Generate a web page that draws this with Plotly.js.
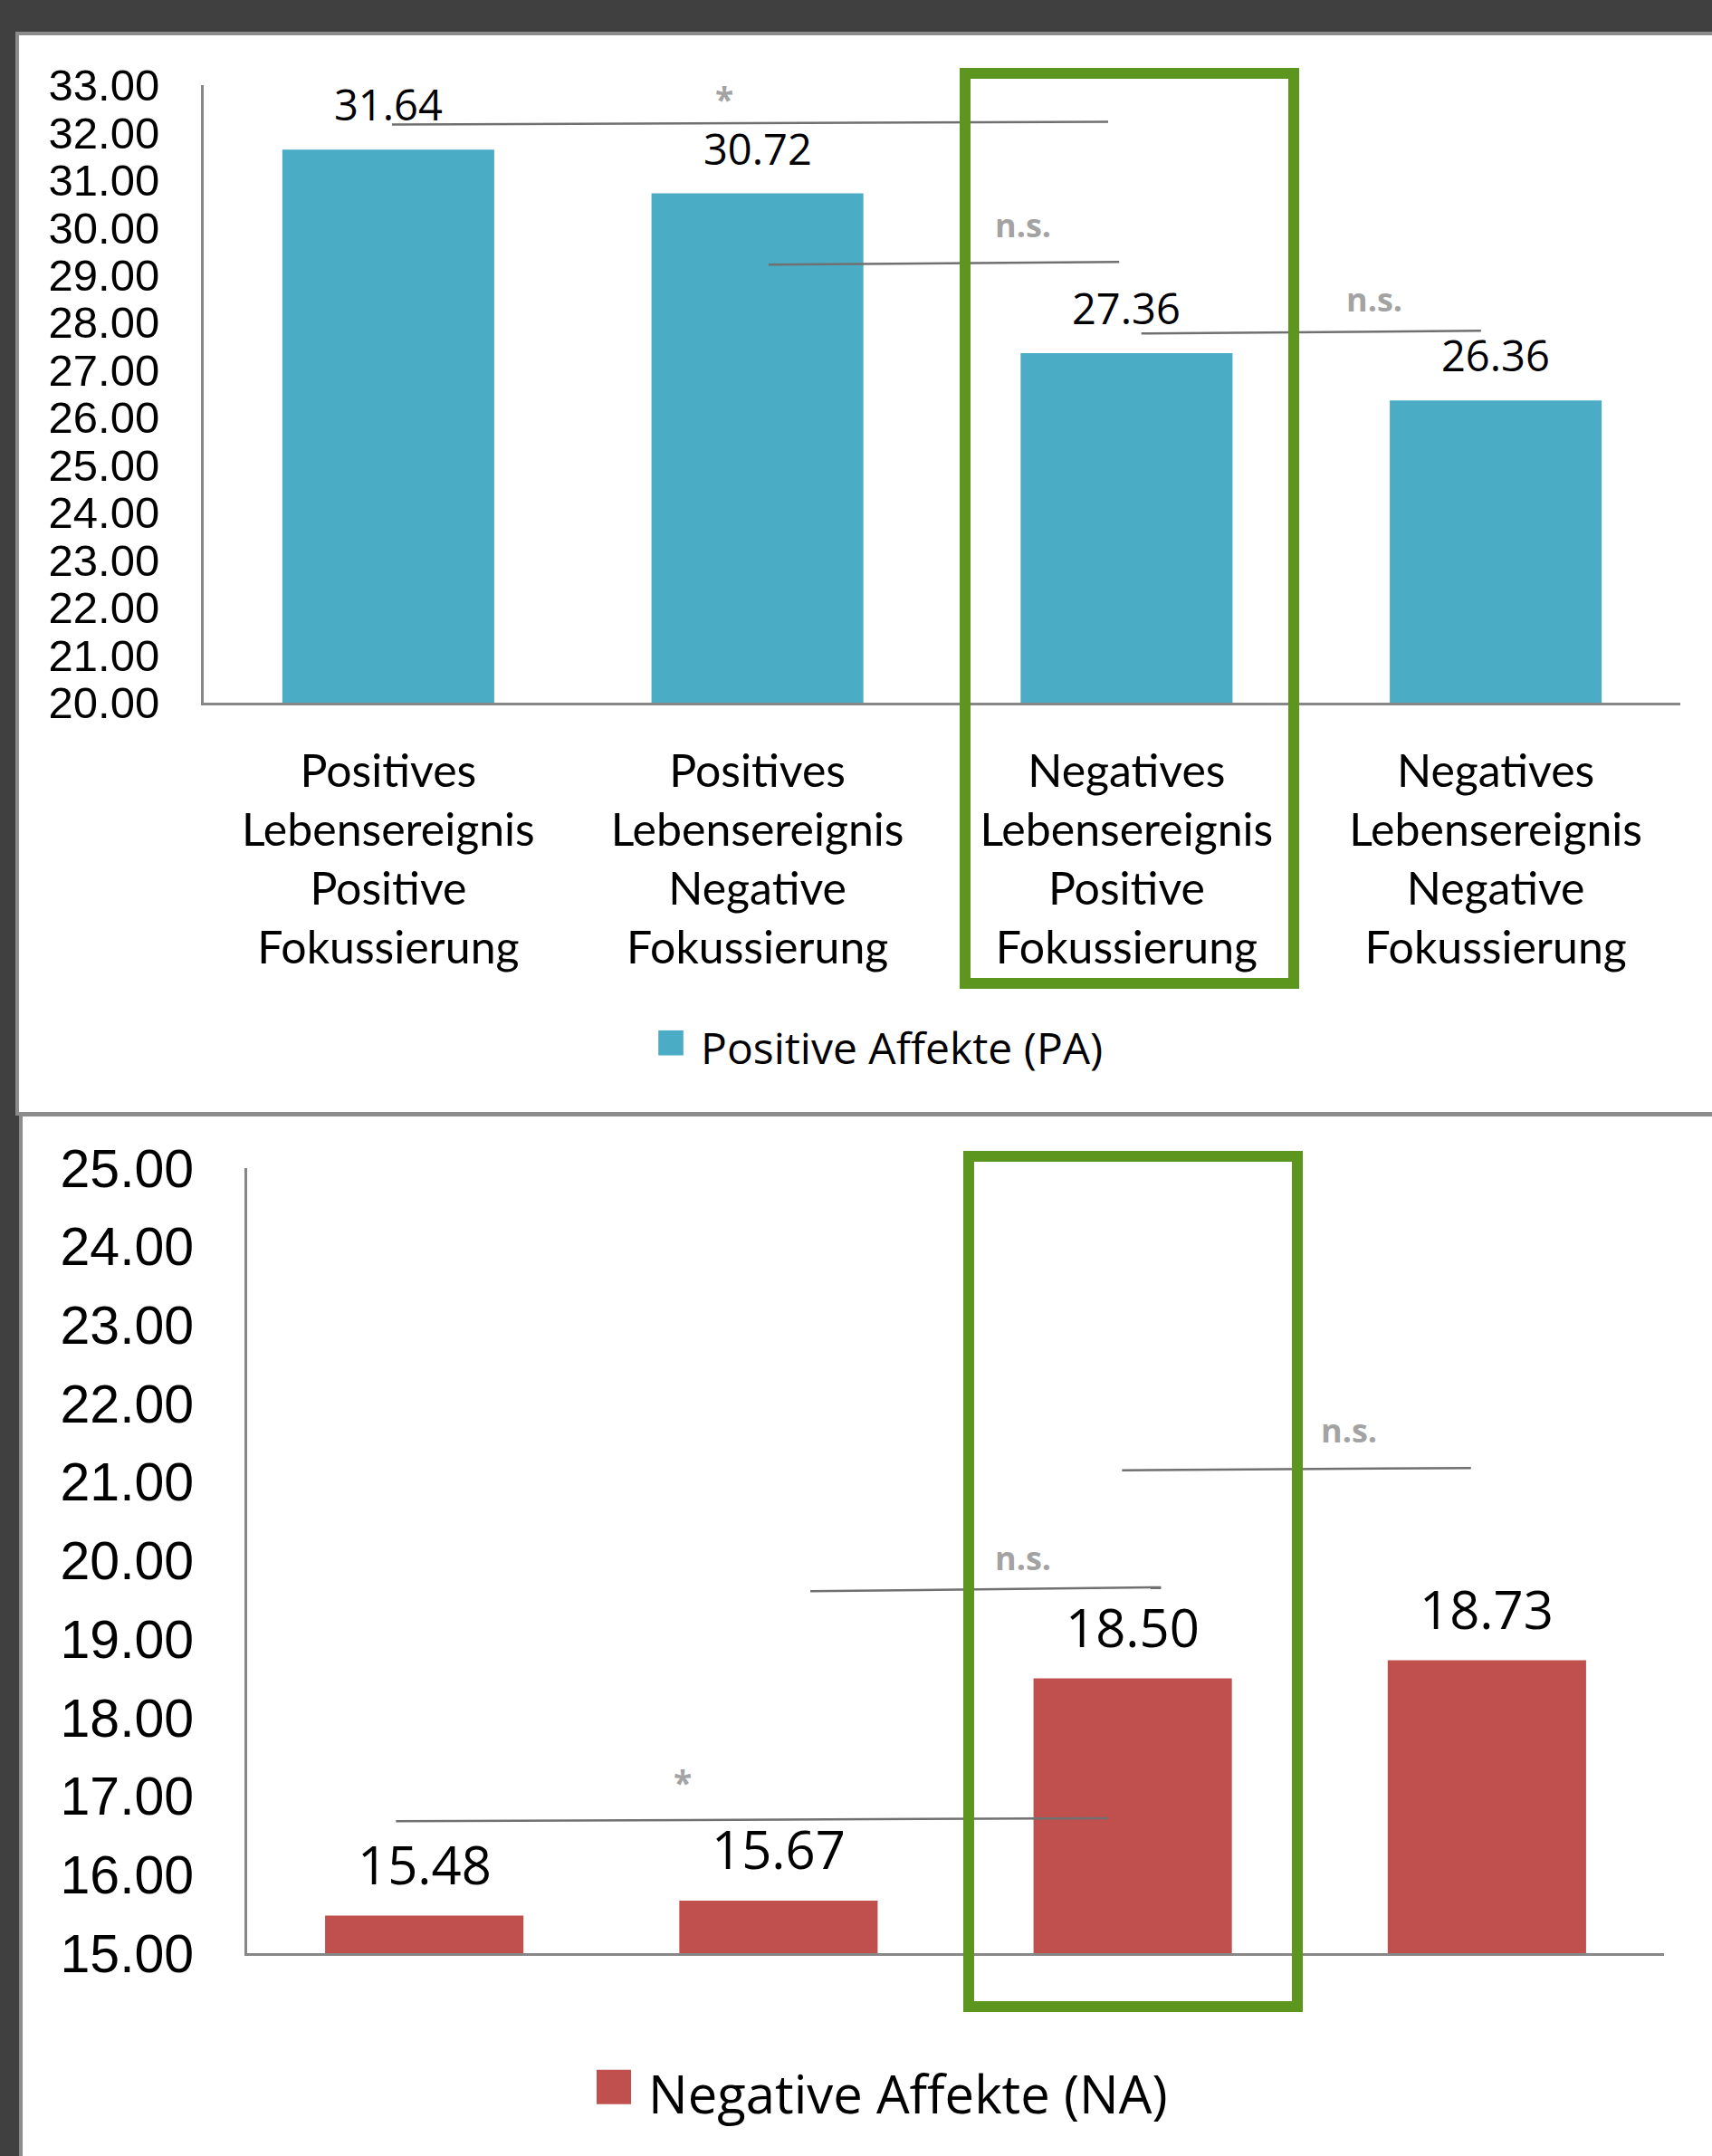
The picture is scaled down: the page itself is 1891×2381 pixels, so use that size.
<!DOCTYPE html>
<html>
<head>
<meta charset="utf-8">
<script src="https://cdn.plot.ly/plotly-3.0.1.min.js"></script>
<style>
html, body { margin: 0; padding: 0; background: #404040; }
#chart { width: 1891px; height: 2381px; }
</style>
</head>
<body>
<div id="chart"></div>
<script>
// ---------- data ----------
const categoryLines = [
  ['Positives', 'Lebensereignis', 'Positive', 'Fokussierung'],
  ['Positives', 'Lebensereignis', 'Negative', 'Fokussierung'],
  ['Negatives', 'Lebensereignis', 'Positive', 'Fokussierung'],
  ['Negatives', 'Lebensereignis', 'Negative', 'Fokussierung']
];
const categories = categoryLines.map(l => l.join('<br>'));
const paValues = [31.64, 30.72, 27.36, 26.36];
const naValues = [15.48, 15.67, 18.50, 18.73];
const paName = 'Positive Affekte (PA)';
const naName = 'Negative Affekte (NA)';
const paRange = [20, 33];
const naRange = [15, 25];

// significance brackets: [xStart, xEnd, yStart, yEnd, label, labelX, labelY]
const paSig = [
  [0.01, 1.95, 32.17, 32.23, '*', 0.91, 32.71],
  [1.03, 1.98, 29.22, 29.28, 'n.s.', 1.72, 30.06],
  [2.04, 2.96, 27.77, 27.83, 'n.s.', 2.67, 28.50]
];
const naSig = [
  [-0.08, 1.93, 16.68, 16.72, '*', 0.73, 17.17],
  [1.09, 2.08, 19.61, 19.66, 'n.s.', 1.69, 20.03],
  [1.97, 2.955, 21.15, 21.18, 'n.s.', 2.61, 21.66]
];

// ---------- geometry helpers ----------
const W = 1891, H = 2381;
const px = x => x / W;
const py = y => 1 - y / H;

const teal = '#4BACC6';
const red = '#C0504D';
const green = '#5C961F';
const axisGrey = '#878787';

const traces = [
  {
    type: 'bar', x: categories, y: paValues, name: paName,
    xaxis: 'x', yaxis: 'y', legend: 'legend',
    marker: { color: teal }, width: 0.574, hoverinfo: 'skip'
  },
  {
    type: 'bar', x: categories, y: naValues, name: naName,
    xaxis: 'x2', yaxis: 'y2', legend: 'legend2',
    marker: { color: red }, width: 0.56, hoverinfo: 'skip'
  }
];

const shapes = [
  { type: 'rect', xref: 'paper', yref: 'paper', x0: px(19), x1: px(1895), y0: py(37), y1: py(1230),
    fillcolor: '#ffffff', line: { color: '#8c8c8c', width: 4 }, layer: 'below' },
  { type: 'rect', xref: 'paper', yref: 'paper', x0: px(23), x1: px(1895), y0: py(1231), y1: py(2390),
    fillcolor: '#ffffff', line: { color: '#8c8c8c', width: 4 }, layer: 'below' }
];
const annotations = [];

function addSig(list, xr, yr) {
  list.forEach(s => {
    shapes.push({ type: 'line', xref: xr, yref: yr, x0: s[0], x1: s[1], y0: s[2], y1: s[3],
      line: { color: '#707070', width: 2.5 } });
    annotations.push({ xref: xr, yref: yr, x: s[5], y: s[6], text: s[4], showarrow: false,
      font: { family: 'Open Sans', size: s[4] === '*' ? 37 : 36, color: '#a3a3a3', weight: 'bold' } });
  });
}
addSig(paSig, 'x', 'y');
addSig(naSig, 'x2', 'y2');

paValues.forEach((v, i) => annotations.push({
  xref: 'x', yref: 'y', x: categories[i], y: v, yanchor: 'middle', yshift: 50,
  text: v.toFixed(2), showarrow: false,
  font: { family: 'Open Sans', size: 47, color: '#000' }
}));
naValues.forEach((v, i) => annotations.push({
  xref: 'x2', yref: 'y2', x: categories[i], y: v, yanchor: 'middle', yshift: 57,
  text: v.toFixed(2), showarrow: false,
  font: { family: 'Open Sans', size: 58, color: '#000' }
}));

shapes.push({ type: 'rect', xref: 'paper', yref: 'paper', x0: px(1066), x1: px(1429), y0: py(81), y1: py(1086),
  line: { color: green, width: 12 }, fillcolor: 'rgba(0,0,0,0)' });
shapes.push({ type: 'rect', xref: 'paper', yref: 'paper', x0: px(1070), x1: px(1433), y0: py(1277), y1: py(2216),
  line: { color: green, width: 12 }, fillcolor: 'rgba(0,0,0,0)' });

const xCommon = {
  type: 'category', range: [-0.5, 3.5], showline: true, linecolor: axisGrey, linewidth: 3,
  ticks: '', showgrid: false, zeroline: false, fixedrange: true
};
const yCommon = {
  showline: true, linecolor: axisGrey, linewidth: 3, ticks: '', showgrid: false,
  zeroline: false, dtick: 1, tickformat: '.2f', fixedrange: true
};

const layout = {
  width: W, height: H,
  margin: { l: 0, r: 0, t: 0, b: 0 },
  paper_bgcolor: '#404040',
  plot_bgcolor: 'rgba(0,0,0,0)',
  font: { family: 'Open Sans', color: '#000' },
  xaxis: Object.assign({}, xCommon, {
    domain: [px(225), px(1856)], anchor: 'y',
    tickfont: { family: 'Lato', size: 50, color: '#000' },
    ticklabelstandoff: 30
  }),
  yaxis: Object.assign({}, yCommon, {
    domain: [py(776), py(94)], anchor: 'x', range: paRange, tick0: paRange[0],
    tickfont: { family: 'Liberation Sans', size: 49, color: '#000' },
    ticklabelstandoff: 36
  }),
  xaxis2: Object.assign({}, xCommon, {
    domain: [px(273), px(1838)], anchor: 'y2', showticklabels: false
  }),
  yaxis2: Object.assign({}, yCommon, {
    domain: [py(2157), py(1290)], anchor: 'x2', range: naRange, tick0: naRange[0],
    tickfont: { family: 'Liberation Sans', size: 59, color: '#000' },
    ticklabelstandoff: 44
  }),
  showlegend: true,
  legend: {
    x: px(734), xanchor: 'left', y: py(1157), yanchor: 'middle',
    bgcolor: 'rgba(0,0,0,0)', font: { family: 'Open Sans', size: 48, color: '#000' }
  },
  legend2: {
    x: px(676), xanchor: 'left', y: py(2312), yanchor: 'middle',
    bgcolor: 'rgba(0,0,0,0)', font: { family: 'Open Sans', size: 58, color: '#000' }
  },
  shapes: shapes,
  annotations: annotations
};

Plotly.newPlot('chart', traces, layout, { staticPlot: true, displayModeBar: false }).then(gd => {
  // enlarge legend swatches to the original's bigger squares: [scale, dx, dy]
  const tweaks = [[2.3, -13, -5], [3.17, -18, -7]];
  gd.querySelectorAll('.scrollbox').forEach(s => s.removeAttribute('clip-path'));
  gd.querySelectorAll('.legendpoints path').forEach((p, i) => {
    const t = tweaks[Math.min(i, 1)];
    const base = p.getAttribute('transform') || '';
    p.setAttribute('transform', base + ' translate(' + t[1] + ',' + t[2] + ') scale(' + t[0] + ')');
  });
});
</script>
</body>
</html>
